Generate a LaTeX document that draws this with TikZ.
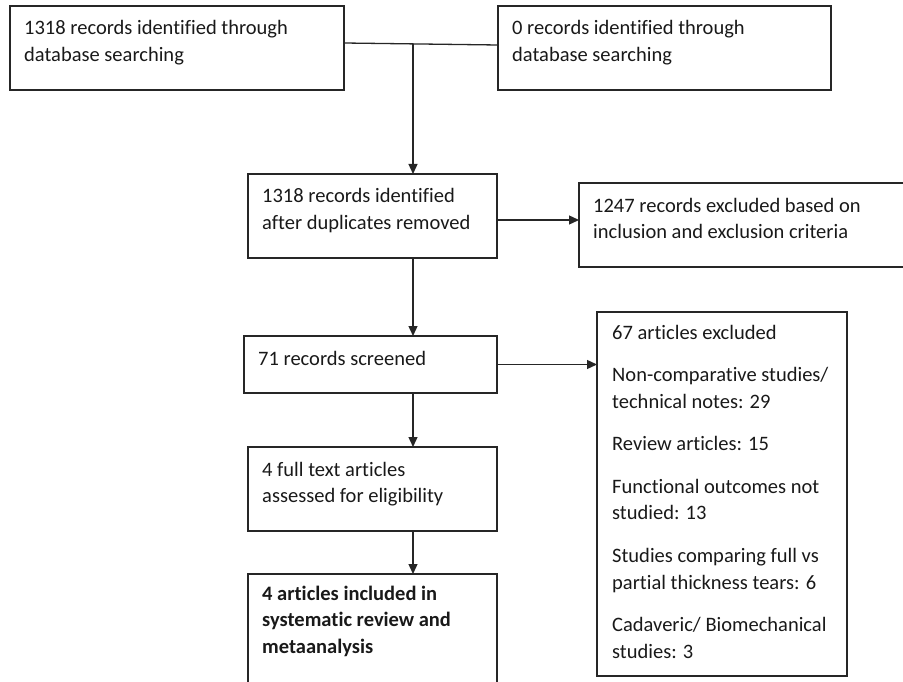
\documentclass[tikz,border=0pt]{standalone}
\usepackage{fontspec}
\setmainfont{Carlito}[Ligatures=NoCommon]
\usetikzlibrary{arrows.meta}
\begin{document}
\begin{tikzpicture}[x=1pt,y=-1pt,
  box/.style={draw=black!85, line width=1.6pt, anchor=north west, inner sep=0pt, outer sep=0pt},
  txt/.style={anchor=base west, inner sep=0pt, text=black!90, font=\fontsize{20.5}{26.7}\selectfont},
  arr/.style={draw=black!85, line width=1.3pt, -{Triangle[length=10pt,width=9pt]}},
  ln/.style={draw=black!85, line width=1.3pt}]
\useasboundingbox (0,0) rectangle (903,682);
\clip (0,0) rectangle (903,682);
% boxes
\node[box, minimum width=334pt, minimum height=84pt] (A) at (10,6) {};
\node[box, minimum width=333pt, minimum height=84pt] (B) at (498,6) {};
\node[box, minimum width=249pt, minimum height=84pt] (C) at (248,174) {};
\node[box, minimum width=340pt, minimum height=84pt] (D) at (579,183) {};
\node[box, minimum width=253pt, minimum height=57pt] (E) at (244,336) {};
\node[box, minimum width=250pt, minimum height=364pt] (F) at (597,312) {};
\node[box, minimum width=249pt, minimum height=84pt] (G) at (248,447) {};
\node[box, minimum width=249pt, minimum height=130pt] (H) at (248,574) {};
% texts
\node[txt] (tA) at ([xshift=14pt,yshift=-29pt]A.north west) {\parbox[t]{320pt}{1318 records identified through\\database searching}};
\node[txt] (tB) at ([xshift=14pt,yshift=-29pt]B.north west) {\parbox[t]{320pt}{0 records identified through\\database searching}};
\node[txt] (tC) at ([xshift=14pt,yshift=-29pt]C.north west) {\parbox[t]{240pt}{1318 records identified\\after duplicates removed}};
\node[txt] (tD) at ([xshift=14pt,yshift=-29pt]D.north west) {\parbox[t]{320pt}{1247 records excluded based on\\inclusion and exclusion criteria}};
\node[txt] (tE) at ([xshift=14pt,yshift=-29pt]E.north west) {\parbox[t]{240pt}{71 records screened}};
\node[txt] (tF) at ([xshift=15pt,yshift=-27pt]F.north west) {\parbox[t]{240pt}{67 articles excluded\\[15.8pt]Non-comparative studies/\\technical notes: 29\\[15.8pt]Review articles: 15\\[15.8pt]Functional outcomes not\\studied: 13\\[15.8pt]Studies comparing full vs\\partial thickness tears: 6\\[15.8pt]Cadaveric/ Biomechanical\\studies: 3}};
\node[txt] (tG) at ([xshift=14pt,yshift=-29pt]G.north west) {\parbox[t]{240pt}{4 full text articles\\assessed for eligibility}};
\node[txt] (tH) at ([xshift=14pt,yshift=-26pt]H.north west) {\parbox[t]{240pt}{\bfseries 4 articles included in\\systematic review and\\metaanalysis}};
% connectors
\coordinate (J) at (413,44);
\draw[ln] ([yshift=5pt]A.east) -- ([yshift=3pt]B.west);
\draw[arr] (J) -- (J |- C.north);
\draw[arr] ([yshift=-4pt]C.east) -- ([yshift=-4pt]C.east -| D.west);
\draw[arr] (C.south -| J) -- (E.north -| J);
\draw[arr] (E.east) -- (E.east -| F.west);
\draw[arr] (E.south -| J) -- (G.north -| J);
\draw[arr] (G.south -| J) -- (H.north -| J);
\end{tikzpicture}
\end{document}
